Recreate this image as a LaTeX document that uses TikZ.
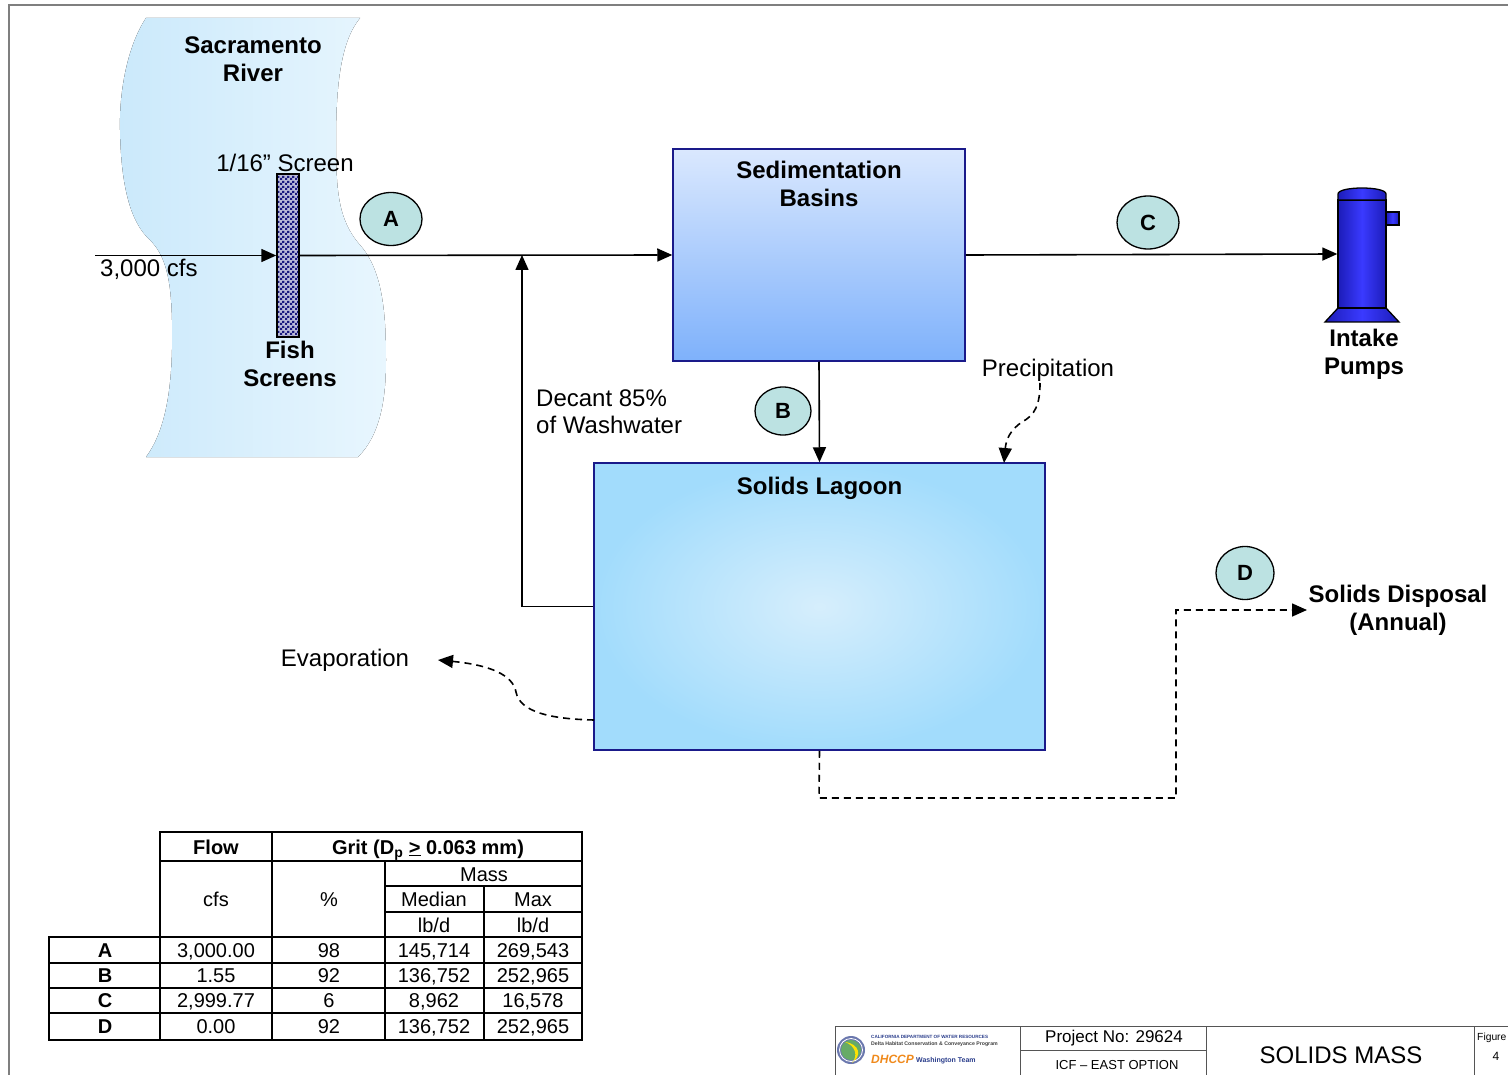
\documentclass[tikz,border=0pt]{standalone}
\usepackage{fontspec}
\setmainfont{Liberation Sans}
\usetikzlibrary{arrows.meta,shapes.geometric,patterns}

\definecolor{framegray}{HTML}{7F7F7F}
\definecolor{riverL}{HTML}{CBE9FB}
\definecolor{riverR}{HTML}{E8F6FE}
\definecolor{boxedge}{HTML}{1A1A8A}
\definecolor{sedtop}{HTML}{DAE8FE}
\definecolor{sedbot}{HTML}{7EB1FB}
\definecolor{lagin}{HTML}{D6EEFC}
\definecolor{lagout}{HTML}{A2DCFC}
\definecolor{tagfill}{HTML}{BCE2E2}
\definecolor{pumpdark}{HTML}{1C1CB8}
\definecolor{pumplight}{HTML}{3A3AFF}
\definecolor{screenblue}{HTML}{1A1A80}
\definecolor{blockgray}{HTML}{555555}
\definecolor{dwrblue}{HTML}{2B3E8C}
\definecolor{dhccporange}{HTML}{F08A1C}

% wire mesh for the fish screen
\pgfdeclarepatternformonly{finemesh}{\pgfpointorigin}{\pgfqpoint{5pt}{5pt}}{\pgfqpoint{5pt}{5pt}}{%
  \pgfpathrectangle{\pgfpointorigin}{\pgfqpoint{2.5pt}{2.5pt}}%
  \pgfpathrectangle{\pgfqpoint{2.5pt}{2.5pt}}{\pgfqpoint{2.5pt}{2.5pt}}%
  \pgfusepath{fill}}

\tikzset{
  lbl/.style={font=\fontsize{24}{27}\selectfont, align=center, inner sep=0pt},
  blbl/.style={font=\fontsize{24}{28}\selectfont\bfseries, align=center, inner sep=0pt},
  flow/.style={line width=1.6pt, -{Triangle[length=15pt,width=13pt]}},
  dflow/.style={flow, dash pattern=on 7pt off 5pt},
  tag/.style={draw, line width=1.3pt, fill=tagfill, ellipse, inner sep=0pt,
    minimum width=62pt, minimum height=53pt, font=\fontsize{22}{22}\selectfont\bfseries},
  basin/.style={draw=boxedge, line width=1.5pt, inner sep=0pt},
  pumppart/.style={draw, line width=1.3pt, left color=pumpdark, right color=pumpdark, middle color=pumplight},
  tthick/.style={line width=2.6pt},
  tthin/.style={line width=1.3pt},
  tcell/.style={font=\fontsize{20}{22}\selectfont, inner sep=0pt, anchor=base},
  tbold/.style={tcell, font=\fontsize{20}{22}\selectfont\bfseries},
  blockline/.style={blockgray, line width=1pt},
}

\begin{document}
\begin{tikzpicture}[x=1pt,y=-1pt]
\useasboundingbox (0,0) rectangle (1508,1075);
\fill[white] (0,0) rectangle (1508,1075);

% sheet frame
\draw[framegray, line width=2pt] (9,1075) -- (9,5) -- (1508,5);

% river
\fill[left color=riverL, right color=riverR]
  (146,18) .. controls (128,45) and (119,90) .. (120,130)
  .. controls (121,185) and (130,222) .. (150,240)
  .. controls (166,256) and (171,280) .. (172,320)
  .. controls (173,370) and (170,425) .. (146,457)
  -- (358,457)
  .. controls (380,435) and (386,400) .. (386,360)
  .. controls (386,310) and (382,270) .. (360,245)
  .. controls (338,220) and (336,190) .. (336,140)
  .. controls (336,80) and (342,40) .. (360,18) -- cycle;
\node[blbl, anchor=north] (rivername) at (253,37) {Sacramento\\River};

% fish screen
\node[draw, line width=1.5pt, minimum width=22pt, minimum height=163pt, inner sep=0pt,
  preaction={fill=screenblue!30}, pattern=finemesh, pattern color=screenblue] (screen) at (288,255.5) {};
\node[lbl] (screenlbl) at (285,163) {1/16” Screen};
\node[blbl, anchor=north] (fishlbl) at (290,341) {Fish\\Screens};

% inflow
\coordinate (inflow) at (95,255.5);
\draw[flow] (inflow) -- (screen.west);
\node[lbl, anchor=west] (cfs) at (100,269) {3,000 cfs};

% sedimentation basins
\node[basin, top color=sedtop, bottom color=sedbot, minimum width=292pt, minimum height=212pt] (sed) at (819,255) {};
\node[blbl, anchor=north, yshift=-13pt] (sedlbl) at (sed.north) {Sedimentation\\Basins};

% solids lagoon
\node[basin, inner color=lagin, outer color=lagout, minimum width=451pt, minimum height=287pt] (lagoon) at (819.5,606.5) {};
\node[blbl, anchor=north, yshift=-15pt] (laglbl) at (lagoon.north) {Solids Lagoon};

% intake pump
\draw[pumppart] (1338,308) -- (1325,322) -- (1399,322) -- (1386,308) -- cycle;
\draw[pumppart] (1386,212) rectangle (1399,225);
\node[pumppart, minimum width=48pt, minimum height=108pt, inner sep=0pt] (pump) at (1362,254) {};
\draw[pumppart] (1338,200) -- (1338,194) .. controls (1338,186) and (1386,186) .. (1386,194) -- (1386,200) -- cycle;
\node[blbl, anchor=north] (pumplbl) at (1364,329) {Intake\\Pumps};

% main flow path
\coordinate (junc) at (522,255);
\draw[flow] (screen.east) -- (sed.west);
\draw[flow] (sed.east) -- (pump.west);
\draw[flow] (sed.south) -- (lagoon.north);
\draw[flow] (lagoon.west) -| (junc);
\node[lbl, align=left, anchor=north west] (decant) at (536,390) {Decant 85\%\\of Washwater};

% flow tags
\node[tag] (tagA) at (391,219) {A};
\node[tag, minimum width=56pt, minimum height=48pt] (tagB) at (783,411) {B};
\node[tag] (tagC) at (1148,222.5) {C};
\node[tag, minimum width=58pt] (tagD) at (1245,573) {D};

% precipitation and evaporation
\node[lbl] (precip) at (1048,370) {Precipitation};
\coordinate (rainin) at (1004,463);
\draw[dflow] (1040,383) .. controls (1040,405) and (1035,415) .. (1022,422)
  .. controls (1010,430) and (1006,440) .. (rainin);
\node[lbl] (evap) at (345,660) {Evaporation};
\coordinate (evapout) at (594,720);
\coordinate (evaptip) at (438,660);
\draw[dflow] (evapout) .. controls (550,719) and (520,712) .. (516,692)
  .. controls (513,675) and (490,665) .. (evaptip);

% solids disposal
\node[blbl, anchor=north] (disp) at (1398,585) {Solids Disposal\\(Annual)};
\coordinate (dispA) at (819,798);
\coordinate (dispB) at (1176,798);
\coordinate (dispC) at (1176,610);
\coordinate (dispD) at (1307,610);
\draw[dflow] (lagoon.south) -- (dispA) -- (dispB) -- (dispC) -- (dispD);

% data table
\draw[tthick] (160,832) rectangle (582,1040);
\draw[tthick] (272,832) -- (272,1040);
\draw[tthick] (160,861) -- (582,861);
\draw[tthick] (385,861) -- (385,1040);
\draw[tthick] (484,937) -- (484,1040);
\draw[tthin] (484,886) -- (484,937);
\draw[tthin] (385,886) -- (582,886);
\draw[tthin] (385,912) -- (582,912);
\draw[tthick] (49,937) rectangle (582,1040);
\foreach \yy in {963,988,1013} \draw[tthick] (49,\yy) -- (582,\yy);
\draw[tthick] (160,937) -- (160,1040);

\node[tbold] (hFlow) at (216,854) {Flow};
\node[tbold] (hGrit) at (428,854) {Grit (D\textsubscript{p} \underline{>} 0.063 mm)};
\node[tcell] (hcfs) at (216,906) {cfs};
\node[tcell] (hpct) at (329,906) {\%};
\node[tcell] (hmass) at (484,881) {Mass};
\node[tcell] (hmed) at (434,906) {Median};
\node[tcell] (hmax) at (533,906) {Max};
\node[tcell] (hu1) at (434,932) {lb/d};
\node[tcell] (hu2) at (533,932) {lb/d};
\foreach \r/\yy/\fa/\pc/\md/\mx in {
  A/957/{3,000.00}/98/{145,714}/{269,543},
  B/982/{1.55}/92/{136,752}/{252,965},
  C/1007/{2,999.77}/6/{8,962}/{16,578},
  D/1033/{0.00}/92/{136,752}/{252,965}} {
  \node[tbold] (row\r) at (105,\yy) {\r};
  \node[tcell] (flow\r) at (216,\yy) {\fa};
  \node[tcell] (pct\r) at (329,\yy) {\pc};
  \node[tcell] (med\r) at (434,\yy) {\md};
  \node[tcell] (max\r) at (533,\yy) {\mx};
}

% title block
\draw[blockline] (835,1075) -- (835,1026) -- (1508,1026);
\draw[blockline] (1020,1026) -- (1020,1075);
\draw[blockline] (1206,1026) -- (1206,1075);
\draw[blockline] (1474,1026) -- (1474,1075);
\draw[blockline] (1020,1050) -- (1206,1050);
% department seal
\fill[dwrblue!70] (851,1050) circle (14);
\fill[green!45!black!60] (851,1050) circle (10);
\fill[yellow!85!orange] (845,1042) .. controls (856,1046) and (858,1056) .. (852,1063)
  .. controls (862,1056) and (860,1044) .. (845,1042) -- cycle;
\draw[white, line width=0.8pt] (851,1050) circle (11.5);
\node[anchor=west, inner sep=0pt, font=\fontsize{4.6}{5}\selectfont\bfseries, text=dwrblue] (dwr) at (871,1037) {CALIFORNIA DEPARTMENT OF WATER RESOURCES};
\node[anchor=west, inner sep=0pt, font=\fontsize{5.2}{6}\selectfont\bfseries, text=black!75] (dhcp) at (871,1044) {Delta Habitat Conservation \& Conveyance Program};
\node[anchor=west, inner sep=0pt, font=\fontsize{12}{12}\selectfont\bfseries\itshape, text=dhccporange] (dhccp) at (871,1059) {DHCCP};
\node[anchor=west, inner sep=0pt, font=\fontsize{7}{8}\selectfont\bfseries, text=dwrblue] (wteam) at (916,1061) {Washington Team};
\node[inner sep=0pt, font=\fontsize{17}{18}\selectfont] (projno) at (1114,1038) {Project No: 29624};
\node[inner sep=0pt, font=\fontsize{13}{14}\selectfont] (option) at (1117,1065) {ICF – EAST OPTION};
\node[inner sep=0pt, font=\fontsize{24}{26}\selectfont] (title) at (1341,1055) {SOLIDS MASS};
\node[anchor=west, inner sep=0pt, font=\fontsize{10.3}{12}\selectfont] (figword) at (1477,1038) {Figure};
\node[inner sep=0pt, font=\fontsize{12}{12}\selectfont] (fignum) at (1496,1056) {4};
\end{tikzpicture}
\end{document}
